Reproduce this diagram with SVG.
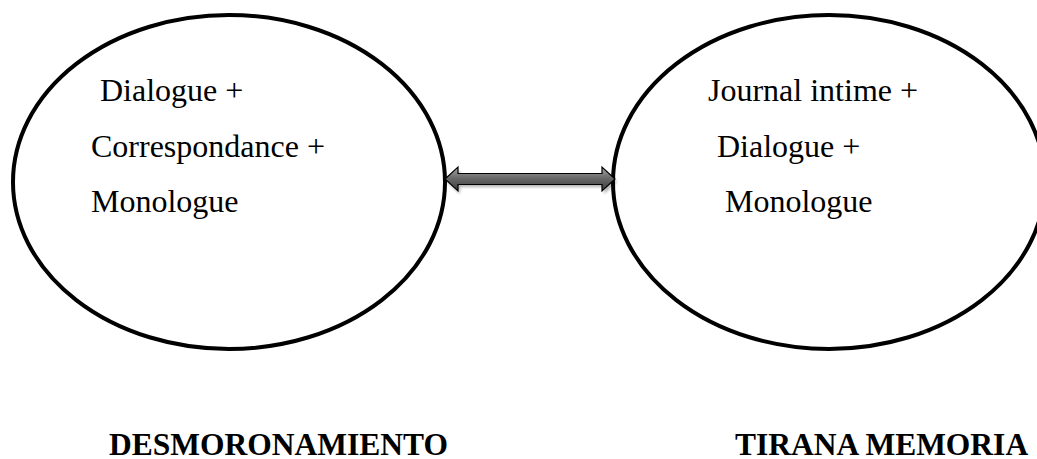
<svg xmlns="http://www.w3.org/2000/svg" width="1037" height="459" viewBox="0 0 1037 459">
  <style>
    .ell { fill: #ffffff; stroke: #000000; stroke-width: 4; }
    .t { font-family: "Liberation Serif", "Times New Roman", serif; font-size: 32px; fill: #000000; }
    .title { font-family: "Liberation Serif", "Times New Roman", serif; font-size: 31.5px; font-weight: bold; fill: #000000; }
  </style>
  <defs>
    <linearGradient id="arrowGrad" x1="0" y1="0" x2="0" y2="1">
      <stop offset="0" stop-color="#a8a8a8"/>
      <stop offset="0.45" stop-color="#6a6a6a"/>
      <stop offset="1" stop-color="#3c3c3c"/>
    </linearGradient>
    <filter id="shadow" x="-10%" y="-50%" width="120%" height="200%">
      <feGaussianBlur stdDeviation="1.5"/>
    </filter>
  </defs>

  <g id="node-desmoronamiento">
    <ellipse class="ell" cx="229" cy="182" rx="216" ry="167"/>
    <text class="t" x="100" y="101">Dialogue +</text>
    <text class="t" x="91" y="157">Correspondance +</text>
    <text class="t" x="91" y="212">Monologue</text>
  </g>

  <g id="node-tirana-memoria">
    <ellipse class="ell" cx="829" cy="182" rx="216" ry="167"/>
    <text class="t" x="708" y="101">Journal intime +</text>
    <text class="t" x="717" y="157">Dialogue +</text>
    <text class="t" x="725" y="212">Monologue</text>
  </g>

  <g id="connectors">
    <polygon points="447,182 460,170 460,177 604,177 604,170 617,182 604,194 604,187 460,187 460,194" fill="#000000" opacity="0.3" filter="url(#shadow)"/>
    <polygon points="445,179 458,167 458,173.5 602,173.5 602,167 615,179 602,191 602,184.5 458,184.5 458,191" fill="url(#arrowGrad)" stroke="#000000" stroke-width="1.2" stroke-linejoin="miter"/>
  </g>

  <g id="labels">
    <text class="title" x="109" y="455">DESMORONAMIENTO</text>
    <text class="title" x="735" y="455">TIRANA MEMORIA</text>
  </g>
</svg>
